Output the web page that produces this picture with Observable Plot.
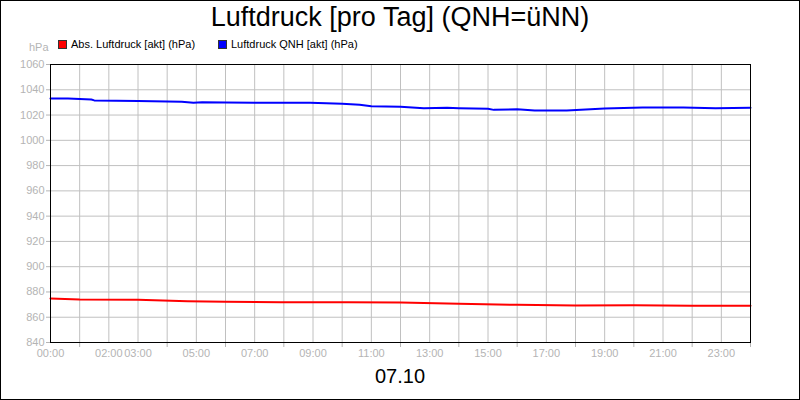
<!DOCTYPE html>
<html><head><meta charset="utf-8">
<script src="https://cdn.jsdelivr.net/npm/d3@7"></script>
<script src="https://cdn.jsdelivr.net/npm/@observablehq/plot@0.6"></script>
<style>
html,body{margin:0;padding:0;background:#fff;}
#wrap{position:relative;width:800px;height:400px;overflow:hidden;font-family:"Liberation Sans",Arial,sans-serif;}
#border{position:absolute;left:0;top:0;width:798px;height:398px;border:1px solid #000;pointer-events:none;}
#title{position:absolute;left:0;width:800px;top:2px;text-align:center;font-size:27px;color:#000;}
#sub{position:absolute;left:0;width:800px;top:365px;text-align:center;font-size:20px;color:#000;}
.leg{position:absolute;top:38px;font-size:11px;color:#000;white-space:nowrap;}
.sw{display:inline-block;width:7px;height:7px;border:1px solid #333;margin-right:4px;vertical-align:-1px;}
#unit{position:absolute;left:29px;top:41px;font-size:11px;color:#b4b4b4;}
#chart{position:absolute;left:0;top:0;}
</style></head>
<body>
<div id="wrap">
<div id="chart"></div>
<div id="title"></div>
<div id="unit">hPa</div>
<div id="legend"></div>
<div id="sub"></div>
<div id="border"></div>
</div>
<script>
const titleText = "Luftdruck [pro Tag] (QNH=üNN)";
const dateLabel = "07.10";
const unitLabel = "hPa";
const seriesNames = ["Abs. Luftdruck [akt] (hPa)", "Luftdruck QNH [akt] (hPa)"];
const seriesColors = ["#ff0000", "#0000ff"];

const absHours  = [0, 1, 3, 4.7, 6, 7.9, 10.2, 12, 14, 16, 18, 20, 22, 24];
const absValues = [874.8, 874.0, 873.8, 872.7, 872.2, 871.9, 871.9, 871.7, 870.6, 869.8, 869.3, 869.5, 869.0, 869.0];

const qnhHours  = [0, 0.6, 1.4, 1.5, 3, 4.5, 4.9, 5.2, 6, 7, 7.9, 8.9, 10, 10.6, 11, 12, 12.8, 13.6, 14, 15, 15.2, 16, 16.6, 17.7, 19, 20.3, 21.7, 22.8, 24];
const qnhValues = [1033.1, 1033.0, 1032.3, 1031.6, 1031.2, 1030.5, 1029.7, 1030.2, 1030.0, 1029.8, 1029.7, 1029.7, 1028.9, 1028.1, 1027.0, 1026.5, 1025.4, 1025.7, 1025.4, 1024.9, 1024.1, 1024.6, 1023.6, 1023.6, 1025.2, 1026.0, 1026.0, 1025.4, 1025.7];

const labelHours = [0, 2, 3, 5, 7, 9, 11, 13, 15, 17, 19, 21, 23];
const tickOnlyHours = [1, 4, 6, 8, 10, 12, 14, 16, 18, 20, 22, 24];
const gridHours = d3.range(0, 25);
const yTicks = d3.range(840, 1061, 20);

const absData = absHours.map((h, i) => ({h, v: absValues[i]}));
const qnhData = qnhHours.map((h, i) => ({h, v: qnhValues[i]}));

const fmt = h => String(h).padStart(2, "0") + ":00";
const grey = "#b4b4b4";

const plot = Plot.plot({
  width: 800, height: 400,
  marginLeft: 50, marginRight: 50, marginTop: 64, marginBottom: 58,
  style: {fontFamily: "'Liberation Sans', Arial, sans-serif", fontSize: "11px", background: "transparent", overflow: "visible"},
  x: {domain: [0, 24]},
  y: {domain: [840, 1060]},
  marks: [
    Plot.gridX(gridHours, {stroke: "#c0c0c0", strokeOpacity: 1}),
    Plot.gridY(yTicks, {stroke: "#c0c0c0", strokeOpacity: 1}),
    Plot.axisX(labelHours, {tickSize: 0, tickPadding: 7, tickFormat: fmt, color: grey, label: null}),
    Plot.axisX(tickOnlyHours, {tickSize: 5, tickFormat: () => "", stroke: grey, label: null}),
    Plot.axisY(yTicks, {tickSize: 4, tickPadding: 2, tickFormat: d => String(d), color: grey, stroke: grey, label: null}),
    Plot.line(absData, {x: "h", y: "v", stroke: seriesColors[0], strokeWidth: 2, curve: "linear"}),
    Plot.line(qnhData, {x: "h", y: "v", stroke: seriesColors[1], strokeWidth: 2, curve: "linear"}),
    Plot.frame({stroke: "#000"})
  ]
});
document.getElementById("chart").appendChild(plot);
document.getElementById("title").textContent = titleText;
document.getElementById("sub").textContent = dateLabel;
document.getElementById("unit").textContent = unitLabel;
const legend = document.getElementById("legend");
const legX = [58, 218];
seriesNames.forEach((n, i) => {
  const d = document.createElement("div");
  d.className = "leg";
  d.style.left = legX[i] + "px";
  const sw = document.createElement("span");
  sw.className = "sw";
  sw.style.background = seriesColors[i];
  d.appendChild(sw);
  d.appendChild(document.createTextNode(n));
  legend.appendChild(d);
});
</script>
</body></html>
